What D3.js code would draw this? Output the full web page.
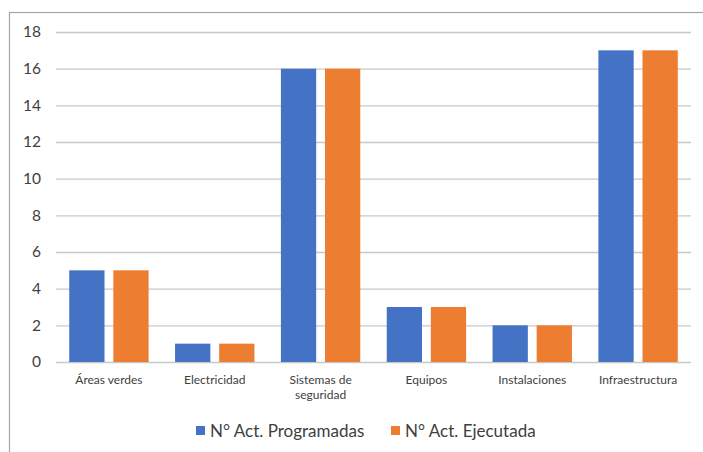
<!DOCTYPE html>
<html><head><meta charset="utf-8">
<script src="https://cdn.jsdelivr.net/npm/d3@7"></script>
<style>body{margin:0;background:#fff}svg{display:block}</style>
</head><body><svg id="c" width="703" height="452"></svg>
<script>
const categories = ["Áreas verdes","Electricidad","Sistemas de seguridad","Equipos","Instalaciones","Infraestructura"];
const programadas = [5,1,16,3,2,17];
const ejecutada = [5,1,16,3,2,17];
const seriesNames = ["N° Act. Programadas","N° Act. Ejecutada"];
const colors = ["#4472C4","#ED7D31"];
const yTicks = [0,2,4,6,8,10,12,14,16,18];

(function(){
const svg = d3.select("#c");
const font = "Lato, 'Open Sans', sans-serif";
svg.append("rect").attr("x",9.5).attr("y",12.5).attr("width",720).attr("height",460)
  .attr("fill","#fff").attr("stroke","#a6a6a6").attr("stroke-width",1.2);

const mL=56, mR=691, mT=32, mB=362;
const x = d3.scaleBand().domain(categories).range([mL,mR]);
const y = d3.scaleLinear().domain([0,18]).range([mB,mT]);
const x1 = d3.scaleBand().domain([0,1]).range([0,x.bandwidth()]).paddingInner(0.2).paddingOuter(0.3);

svg.append("g").selectAll("line").data(yTicks).join("line")
  .attr("x1",mL).attr("x2",mR).attr("y1",d=>y(d)+0.5).attr("y2",d=>y(d)+0.5)
  .attr("stroke","#c8c8c8").attr("stroke-width",1.3);

svg.append("g").selectAll("text").data(yTicks).join("text")
  .attr("x",41).attr("y",d=>y(d)).attr("dy","0.35em").attr("text-anchor","end")
  .attr("font-family",font).attr("font-size",15.5).attr("fill","#404040").text(d=>d);

const data = categories.map((c,i)=>({c, v:[programadas[i],ejecutada[i]]}));
const g = svg.append("g").selectAll("g").data(data).join("g")
  .attr("transform",d=>`translate(${x(d.c)},0)`);
g.selectAll("rect").data(d=>d.v.map((v,k)=>({v,k}))).join("rect")
  .attr("x",d=>x1(d.k)).attr("width",x1.bandwidth())
  .attr("y",d=>y(d.v)).attr("height",d=>y(0)-y(d.v))
  .attr("fill",d=>colors[d.k]);

const xl = svg.append("g").selectAll("text").data(categories).join("text")
  .attr("x",d=>x(d)+x.bandwidth()/2).attr("y",384).attr("text-anchor","middle")
  .attr("font-family",font).attr("font-size",12).attr("fill","#404040");
xl.each(function(d){
  const t=d3.select(this);
  const lines = d==="Sistemas de seguridad" ? ["Sistemas de","seguridad"] : [d];
  lines.forEach((l,i)=>t.append("tspan").attr("x",x(d)+x.bandwidth()/2).attr("dy",i?15:0).text(l));
});

const leg = [{x:196,tx:210},{x:391,tx:405}];
seriesNames.forEach((s,i)=>{
  svg.append("rect").attr("x",leg[i].x).attr("y",426).attr("width",9).attr("height",9).attr("fill",colors[i]);
  svg.append("text").attr("x",leg[i].tx).attr("y",431).attr("dy","0.35em")
    .attr("font-family",font).attr("font-size",17).attr("fill","#404040").text(s);
});
})();
</script></body></html>
